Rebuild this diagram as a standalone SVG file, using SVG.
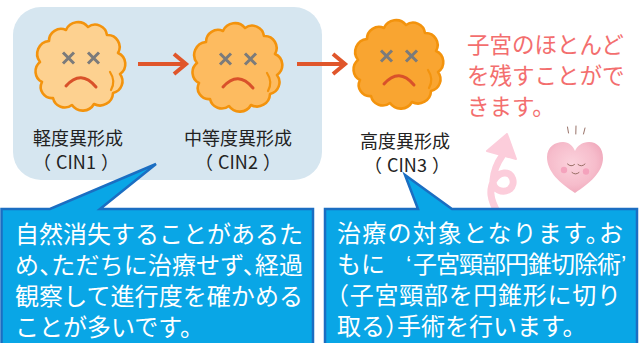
<svg xmlns="http://www.w3.org/2000/svg" width="642" height="343" viewBox="0 0 642 343">
  <style>
    .jp { font-family: 'Noto Sans CJK JP', 'Noto Sans', sans-serif; }
    .label { font-size: 18px; fill: #222; text-anchor: middle; }
    .note { font-size: 22.5px; fill: #f36e6e; }
    .body { font-size: 24px; fill: #ffffff; font-feature-settings: "halt"; }
    .quote { font-family: 'Liberation Sans', sans-serif; }
    .cell { stroke: #f3930d; stroke-width: 2.6; stroke-linejoin: round; }
    .fold { fill: none; stroke: #f3930d; stroke-width: 2.2; stroke-linecap: round; }
    .eye { stroke: #7b7b7b; stroke-width: 3; stroke-linecap: butt; fill: none; }
    .mouth { stroke: #d9512a; stroke-width: 3; stroke-linecap: round; fill: none; }
    .flow { stroke: #e0562b; stroke-width: 4; fill: none; }
    .callout { fill: #09a6e6; stroke: #1b6ec2; stroke-width: 2.5; stroke-linejoin: miter; }
  </style>
  <defs>
    <!-- irregular bumpy cell outline, centred on 0,0 -->
    <path id="blob" d="M -14 -36 A 13 13 0 0 1 8 -39 A 12 12 0 0 1 27 -31 A 12 12 0 0 1 38 -13 A 12 12 0 0 1 40 8 A 12 12 0 0 1 33 27 A 13 13 0 0 1 14 38 A 13 13 0 0 1 -8 39 A 12 12 0 0 1 -27 32 A 11 11 0 0 1 -38 16 A 12 12 0 0 1 -40 -4 A 13 13 0 0 1 -31 -25 A 12 12 0 0 1 -14 -36 Z"/>
    <!-- sad face with crossed-out eyes -->
    <g id="face">
      <path class="eye" d="M -17 -13.5 L -6 -2.5 M -6 -13.5 L -17 -2.5 M 8 -13.5 L 19 -2.5 M 19 -13.5 L 8 -2.5"/>
      <path class="mouth" d="M -14 20 Q 1 3 16 21"/>
    </g>
    <g id="folds">
      <path class="fold" d="M 30 6 q 6 9 1 18"/>
    </g>
    <marker id="chev" markerUnits="userSpaceOnUse" markerWidth="20" markerHeight="26" refX="15" refY="13" orient="auto">
      <path d="M 3 3 L 15 13 L 3 23" fill="none" stroke="#e0562b" stroke-width="4"/>
    </marker>
    <radialGradient id="heartFill" cx="0.45" cy="0.42" r="0.6">
      <stop offset="0" stop-color="#fbd2dc"/>
      <stop offset="0.7" stop-color="#f6bccb"/>
      <stop offset="1" stop-color="#f0a9bc"/>
    </radialGradient>
    <filter id="soft" x="-10%" y="-10%" width="120%" height="120%">
      <feGaussianBlur stdDeviation="0.7"/>
    </filter>
  </defs>

  <!-- background panel behind CIN1 and CIN2 -->
  <rect x="13" y="7" width="309" height="173" rx="28" fill="#d6e6f0"/>

  <!-- nodes -->
  <g id="cin1">
    <g transform="translate(80 66)">
      <use href="#blob" class="cell" fill="#fdd190"/>
      <use href="#folds"/>
      <use href="#face"/>
    </g>
    <text class="jp label" x="78" y="145">軽度異形成</text>
    <text class="jp label" x="76" y="169">（<tspan dx="5">CIN1</tspan><tspan dx="5">）</tspan></text>
  </g>

  <g id="cin2">
    <g transform="translate(237 67)">
      <use href="#blob" class="cell" fill="#fdbb60"/>
      <use href="#folds"/>
      <use href="#face"/>
    </g>
    <text class="jp label" x="238" y="145">中等度異形成</text>
    <text class="jp label" x="238" y="169">（<tspan dx="5">CIN2</tspan><tspan dx="5">）</tspan></text>
  </g>

  <g id="cin3">
    <g transform="translate(398 64)">
      <use href="#blob" class="cell" fill="#f9a531"/>
      <use href="#folds"/>
      <use href="#face"/>
    </g>
    <text class="jp label" x="405" y="148">高度異形成</text>
    <text class="jp label" x="407" y="172">（<tspan dx="5">CIN3</tspan><tspan dx="5">）</tspan></text>
  </g>

  <!-- progression arrows -->
  <g id="connectors">
    <path class="flow" d="M 138 64 L 186 64" marker-end="url(#chev)"/>
    <path class="flow" d="M 297 64 L 345 64" marker-end="url(#chev)"/>
  </g>

  <!-- note beside CIN3 -->
  <g id="note">
    <text class="jp note" x="467" y="52.5">子宮のほとんど</text>
    <text class="jp note" x="467" y="84">を残すことがで</text>
    <text class="jp note" x="467" y="115">きます。</text>
  </g>

  <!-- curly upward arrow -->
  <g id="curl">
    <path d="M 502 156 C 497 163, 494 170, 493 180 C 492 190, 503 194, 510 189 C 516 184, 513 172, 504 173 C 495 174, 490 185, 491 195 C 492 203, 495 208, 498 213" fill="none" stroke="#fccddb" stroke-width="7" stroke-linecap="round"/>
    <polygon points="507,134 487,151 516,159" fill="#fccddb" stroke="#fccddb" stroke-width="2" stroke-linejoin="round"/>
  </g>

  <!-- smiling heart -->
  <g id="heart">
    <path d="M 575 193 C 560 183, 547 172, 547 157 C 547 147, 555 142, 563 142 C 569 142, 573 146, 575 151 C 577 146, 582 142, 589 142 C 597 142, 603 148, 603 158 C 603 172, 590 183, 575 193 Z" fill="url(#heartFill)" filter="url(#soft)"/>
    <circle cx="564" cy="170" r="3.2" fill="#f49bb8" opacity="0.8" filter="url(#soft)"/>
    <circle cx="586" cy="171.5" r="3.2" fill="#f49bb8" opacity="0.8" filter="url(#soft)"/>
    <g fill="none" stroke="#8c6257" stroke-width="0.9" stroke-linecap="round">
      <path d="M 567.5 164 Q 571 167.5 574.5 164.5"/>
      <path d="M 578 164.5 Q 581.5 167.5 585 164"/>
      <path d="M 572 172.5 Q 575.5 175.5 579 172.5"/>
      <path d="M 567.5 127 L 568.5 133"/>
      <path d="M 576 126 L 575.8 134"/>
      <path d="M 585 128 L 583.5 134"/>
    </g>
  </g>

  <!-- callout pointing at CIN1/CIN2 -->
  <g id="callout-left">
    <path class="callout" d="M 1.5 209 L 50 209 L 156 164 L 100 209 L 313 209 L 313 352 L 1.5 352 Z"/>
    <text class="jp body" x="15" y="243" textLength="288" lengthAdjust="spacing">自然消失することがあるた</text>
    <text class="jp body" x="15" y="274" textLength="288" lengthAdjust="spacing">め、ただちに治療せず、経過</text>
    <text class="jp body" x="15" y="305" textLength="288" lengthAdjust="spacing">観察して進行度を確かめる</text>
    <text class="jp body" x="15" y="336">ことが多いです。</text>
  </g>

  <!-- callout pointing at CIN3 -->
  <g id="callout-right">
    <path class="callout" d="M 325 209 L 418 209 L 405 175 L 452 209 L 637 209 L 637 352 L 325 352 Z"/>
    <text class="jp body" x="337" y="242" textLength="286" lengthAdjust="spacing">治療の対象となります。お</text>
    <text class="jp body" x="337" y="273">もに <tspan class="quote" x="406">‘</tspan><tspan x="413" letter-spacing="-1">子宮頸部円錐切除術</tspan><tspan class="quote" dx="1">’</tspan></text>
    <text class="jp body" x="337" y="304" textLength="284" lengthAdjust="spacing">（子宮頸部を円錐形に切り</text>
    <text class="jp body" x="337" y="335">取る）手術を行います。</text>
  </g>
</svg>
